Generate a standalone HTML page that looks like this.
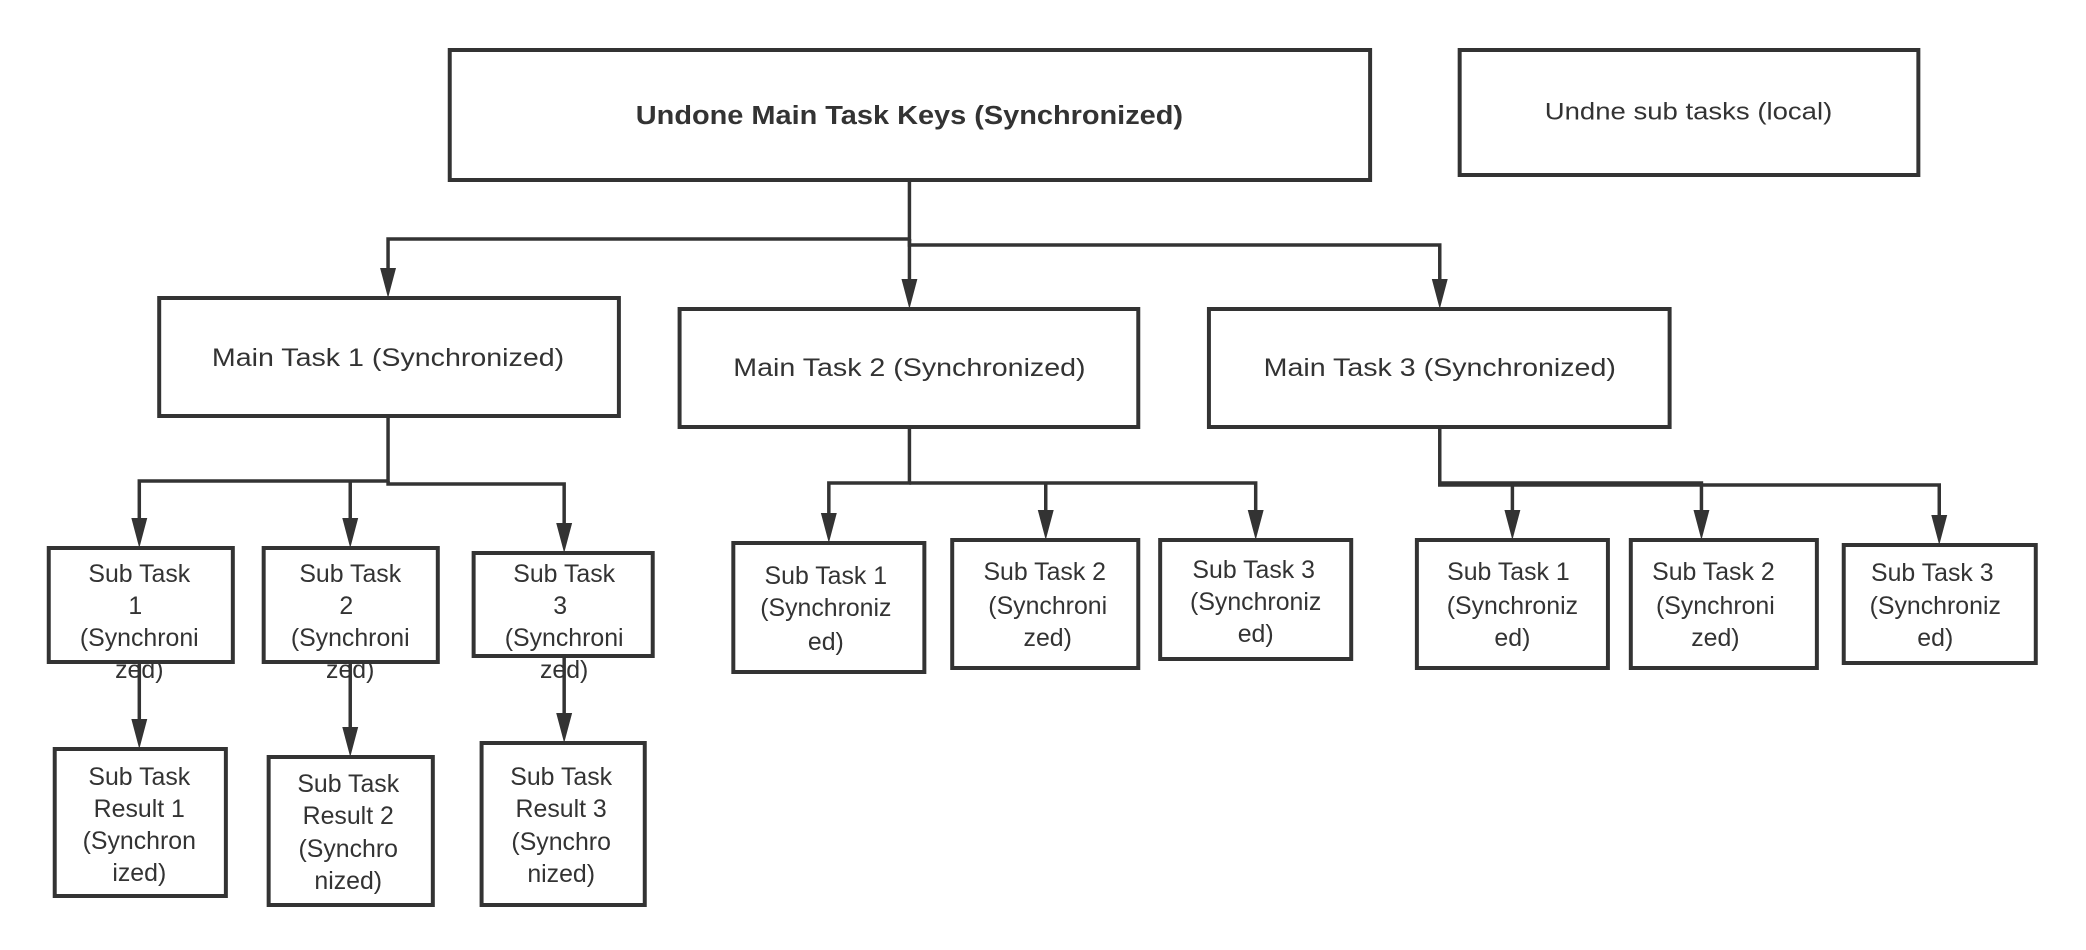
<!DOCTYPE html>
<html><head><meta charset="utf-8"><style>
html,body{margin:0;padding:0;background:#fff;}
svg{display:block;}
text{font-family:"Liberation Sans",sans-serif;fill:#333;text-anchor:middle;dominant-baseline:central;}
</style></head><body>
<svg width="2086" height="950" viewBox="0 0 2086 950" xmlns="http://www.w3.org/2000/svg">
<g transform="scale(0.995,1)">
<g fill="none" stroke="#333" stroke-width="4">
<rect x="452" y="50" width="925" height="130"/>
<rect x="1467" y="50" width="461" height="125"/>
<rect x="160" y="298" width="462" height="118"/>
<rect x="683" y="309" width="461" height="118"/>
<rect x="1215" y="309" width="463" height="118"/>
<rect x="49" y="548" width="185" height="114"/>
<rect x="265" y="548" width="175" height="114"/>
<rect x="476" y="553" width="180" height="103"/>
<rect x="55" y="749" width="172" height="147"/>
<rect x="270" y="757" width="165" height="148"/>
<rect x="484" y="743" width="164" height="162"/>
<rect x="737" y="543" width="192" height="129"/>
<rect x="957" y="540" width="187" height="128"/>
<rect x="1166" y="540" width="192" height="119"/>
<rect x="1424" y="540" width="192" height="128"/>
<rect x="1639" y="540" width="187" height="128"/>
<rect x="1853" y="545" width="193" height="118"/>
</g>
<g fill="none" stroke="#333" stroke-width="3.5">
<path d="M914,180 V239 H390 V268"/>
<path d="M914,239 V279"/>
<path d="M914,239 V245 H1447 V279"/>
<path d="M390,416 V481 H140 V518"/>
<path d="M352,481 V518"/>
<path d="M390,481 V484 H567 V523"/>
<path d="M140,662 V719"/>
<path d="M352,662 V727"/>
<path d="M567,656 V713"/>
<path d="M914,427 V483 H833 V513"/>
<path d="M914,483 H1262 V510"/>
<path d="M1051,483 V510"/>
<path d="M1447,427 V483 H1710 V510"/>
<path d="M1447,483 V485 H1949 V515"/>
<path d="M1520,485 V510"/>
</g>
<g fill="#333">
<path d="M382,268 L398,268 L390,298 Z"/>
<path d="M906,279 L922,279 L914,309 Z"/>
<path d="M1439,279 L1455,279 L1447,309 Z"/>
<path d="M132,518 L148,518 L140,548 Z"/>
<path d="M344,518 L360,518 L352,548 Z"/>
<path d="M559,523 L575,523 L567,553 Z"/>
<path d="M132,719 L148,719 L140,749 Z"/>
<path d="M344,727 L360,727 L352,757 Z"/>
<path d="M559,713 L575,713 L567,743 Z"/>
<path d="M825,513 L841,513 L833,543 Z"/>
<path d="M1043,510 L1059,510 L1051,540 Z"/>
<path d="M1254,510 L1270,510 L1262,540 Z"/>
<path d="M1512,510 L1528,510 L1520,540 Z"/>
<path d="M1702,510 L1718,510 L1710,540 Z"/>
<path d="M1941,515 L1957,515 L1949,545 Z"/>
</g>
<text x="914" y="116" font-size="26" font-weight="bold" textLength="550" lengthAdjust="spacingAndGlyphs">Undone Main Task Keys (Synchronized)</text>
<text x="1697" y="112" font-size="24" textLength="289" lengthAdjust="spacingAndGlyphs">Undne sub tasks (local)</text>
<g font-size="25">
<text x="390" y="358" textLength="354" lengthAdjust="spacingAndGlyphs">Main Task 1  (Synchronized)</text>
<text x="914" y="368" textLength="354" lengthAdjust="spacingAndGlyphs">Main Task 2  (Synchronized)</text>
<text x="1447" y="368" textLength="354" lengthAdjust="spacingAndGlyphs">Main Task 3  (Synchronized)</text>
</g>
<g font-size="25">
<text x="140" y="574">Sub Task</text><text x="136" y="606">1</text><text x="140" y="638">(Synchroni</text><text x="140" y="670">zed)</text>
<text x="352" y="574">Sub Task</text><text x="348" y="606">2</text><text x="352" y="638">(Synchroni</text><text x="352" y="670">zed)</text>
<text x="567" y="574">Sub Task</text><text x="563" y="606">3</text><text x="567" y="638">(Synchroni</text><text x="567" y="670">zed)</text>
<text x="140" y="777">Sub Task</text><text x="140" y="809">Result 1</text><text x="140" y="841">(Synchron</text><text x="140" y="873">ized)</text>
<text x="350" y="784">Sub Task</text><text x="350" y="816">Result 2</text><text x="350" y="849">(Synchro</text><text x="350" y="881">nized)</text>
<text x="564" y="777">Sub Task</text><text x="564" y="809">Result 3</text><text x="564" y="842">(Synchro</text><text x="564" y="874">nized)</text>
<text x="830" y="576">Sub Task 1</text><text x="830" y="608">(Synchroniz</text><text x="830" y="642">ed)</text>
<text x="1050" y="572">Sub Task 2</text><text x="1053" y="606">(Synchroni</text><text x="1053" y="638">zed)</text>
<text x="1260" y="570">Sub Task 3</text><text x="1262" y="602">(Synchroniz</text><text x="1262" y="634">ed)</text>
<text x="1516" y="572">Sub Task 1</text><text x="1520" y="606">(Synchroniz</text><text x="1520" y="638">ed)</text>
<text x="1722" y="572">Sub Task 2</text><text x="1724" y="606">(Synchroni</text><text x="1724" y="638">zed)</text>
<text x="1942" y="573">Sub Task 3</text><text x="1945" y="606">(Synchroniz</text><text x="1945" y="638">ed)</text>
</g>
</g>
</svg>
</body></html>
